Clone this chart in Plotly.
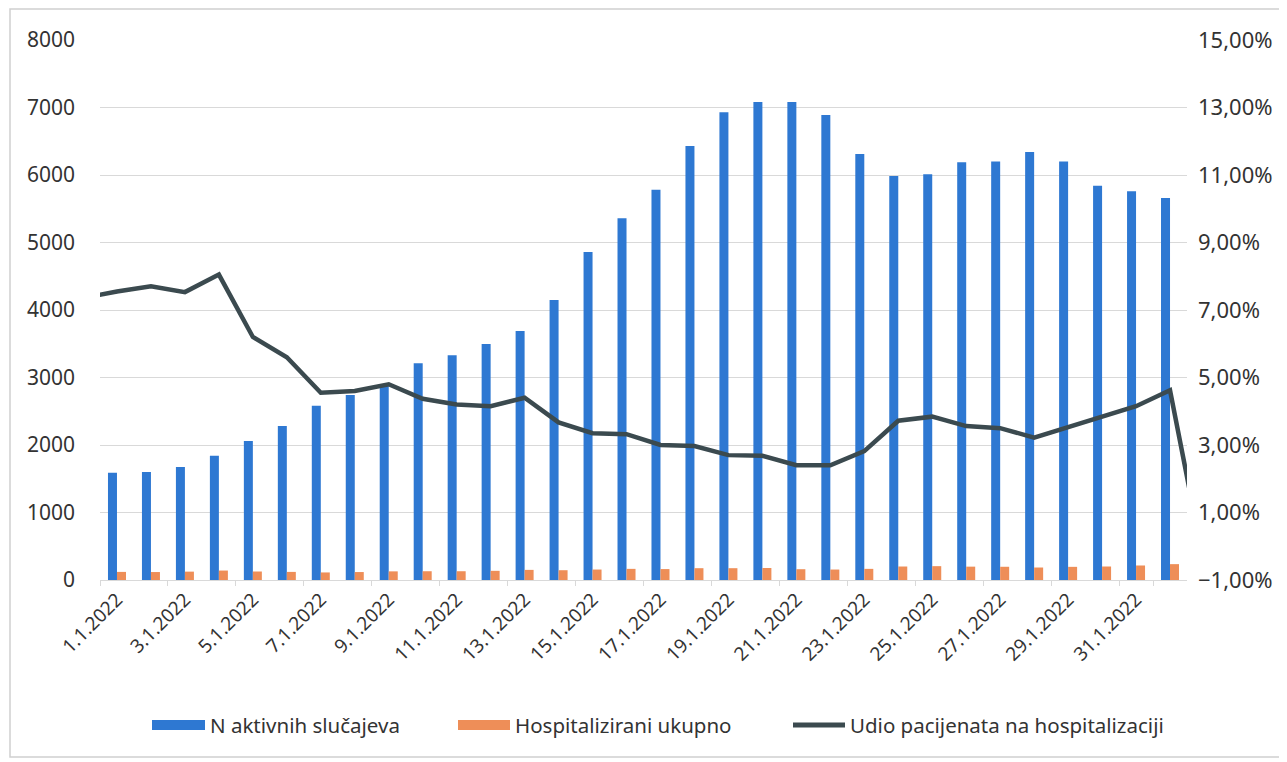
import plotly.graph_objects as go

# ---- data ----
dates = ["1.1.2022", "2.1.2022", "3.1.2022", "4.1.2022", "5.1.2022", "6.1.2022",
         "7.1.2022", "8.1.2022", "9.1.2022", "10.1.2022", "11.1.2022", "12.1.2022",
         "13.1.2022", "14.1.2022", "15.1.2022", "16.1.2022", "17.1.2022", "18.1.2022",
         "19.1.2022", "20.1.2022", "21.1.2022", "22.1.2022", "23.1.2022", "24.1.2022",
         "25.1.2022", "26.1.2022", "27.1.2022", "28.1.2022", "29.1.2022", "30.1.2022",
         "31.1.2022", "1.2.2022"]

active_cases = [1590, 1600, 1675, 1840, 2060, 2280, 2580, 2740, 2890, 3210, 3330, 3495,
                3690, 4150, 4860, 5360, 5780, 6430, 6930, 7080, 7080, 6890, 6310, 5985,
                6010, 6190, 6200, 6340, 6200, 5840, 5760, 5660]

hospitalized = [120, 118, 124, 140, 126, 120, 112, 118, 128, 130, 130, 136,
                150, 145, 155, 165, 162, 175, 175, 178, 160, 155, 165, 200,
                205, 198, 196, 185, 195, 200, 215, 235]

share_dates = ["31.12.2021"] + dates + ["2.2.2022"]
share_pct = [0.0735, 0.0755, 0.0770, 0.0753, 0.0805, 0.0620, 0.0560, 0.0455, 0.0460,
             0.0480, 0.0437, 0.0420, 0.0415, 0.0440, 0.0367, 0.0335, 0.0332, 0.0300,
             0.0297, 0.0270, 0.0268, 0.0240, 0.0240, 0.0282, 0.0372, 0.0384, 0.0356,
             0.0350, 0.0322, 0.0352, 0.0382, 0.0415, 0.0462, -0.0050]

x_tick_labels = dates[0:31:2]

series_names = ["N aktivnih slučajeva", "Hospitalizirani ukupno",
                "Udio pacijenata na hospitalizaciji"]

left_range = [0, 8000]
right_range = [-0.01, 0.15]

BLUE = "#2E78D2"
ORANGE = "#EE8E58"
LINE = "#3B4A4F"
GRID = "#D9D9D9"
TXT = "#333333"
FONT = "Noto Sans"

# figure geometry (page has an 8px body margin)
W, H = 1279, 754
ML, MT, PW, PH = 92, 32, 1087, 540
MR, MB = W - ML - PW, H - MT - PH


def px(x):  # page pixel -> paper x
    return (x - 8 - ML) / PW


def py(y):  # page pixel -> paper y
    return (8 + MT + PH - y) / PH


fig = go.Figure()
fig.add_trace(go.Bar(x=dates, y=active_cases, name=series_names[0],
                     marker=dict(color=BLUE, line=dict(width=0))))
fig.add_trace(go.Bar(x=dates, y=hospitalized, name=series_names[1],
                     marker=dict(color=ORANGE, line=dict(width=0))))
fig.add_trace(go.Scatter(x=share_dates, y=share_pct, name=series_names[2],
                         mode="lines", yaxis="y2",
                         line=dict(color=LINE, width=4.5)))

# legend drawn as in the reference: wide swatches + labels
legend_swatch_x = [(152, 205), (458, 510), (793, 845)]
legend_kind = ["rect", "rect", "line"]
legend_colors = [BLUE, ORANGE, LINE]
LEG_Y = 725

shapes = [dict(type="rect", xref="paper", yref="paper",
               x0=px(10), x1=px(1284), y0=py(757), y1=py(9),
               line=dict(color="#D0D0D0", width=1.5), fillcolor="rgba(0,0,0,0)",
               layer="below")]
annotations = []
for (sx0, sx1), kind, col, name in zip(legend_swatch_x, legend_kind, legend_colors, series_names):
    if kind == "rect":
        shapes.append(dict(type="rect", xref="paper", yref="paper",
                           x0=px(sx0), x1=px(sx1), y0=py(LEG_Y + 5), y1=py(LEG_Y - 5),
                           fillcolor=col, line=dict(width=0)))
    else:
        shapes.append(dict(type="line", xref="paper", yref="paper",
                           x0=px(sx0), x1=px(sx1), y0=py(LEG_Y), y1=py(LEG_Y),
                           line=dict(color=col, width=5)))
    annotations.append(dict(xref="paper", yref="paper", x=px(sx1 + 3), y=py(LEG_Y),
                            xanchor="left", yanchor="middle", showarrow=False,
                            text=name, font=dict(size=20.5, color=TXT, family=FONT)))

fig.update_layout(
    width=W, height=H,
    paper_bgcolor="white", plot_bgcolor="white",
    separators=",.",
    barmode="group", bargap=0.47, bargroupgap=0,
    margin=dict(l=ML, r=MR, t=MT, b=MB, pad=0),
    font=dict(family=FONT, size=21, color=TXT),
    xaxis=dict(
        type="category", categoryorder="array", categoryarray=share_dates,
        range=[0.5, 32.5], tickvals=x_tick_labels, tickangle=-45,
        tickfont=dict(size=19, color=TXT), showgrid=False, zeroline=False,
        showline=True, linecolor=GRID, linewidth=1,
        ticks="outside", tickson="boundaries", ticklen=5, tickcolor=GRID,
    ),
    yaxis=dict(
        range=left_range, dtick=1000, tick0=0, tickformat="d",
        showgrid=True, gridcolor=GRID, gridwidth=1, zeroline=False,
        showline=False, ticks="", ticklabelstandoff=24,
        tickfont=dict(size=21, color=TXT),
    ),
    yaxis2=dict(
        range=right_range, dtick=0.02, tick0=-0.01, tickformat=".2%",
        overlaying="y", side="right", showgrid=False, zeroline=False,
        showline=False, ticks="", ticklabelstandoff=10,
        tickfont=dict(size=22, color=TXT),
    ),
    showlegend=False,
    shapes=shapes,
    annotations=annotations,
)

fig.write_html("out.html")
